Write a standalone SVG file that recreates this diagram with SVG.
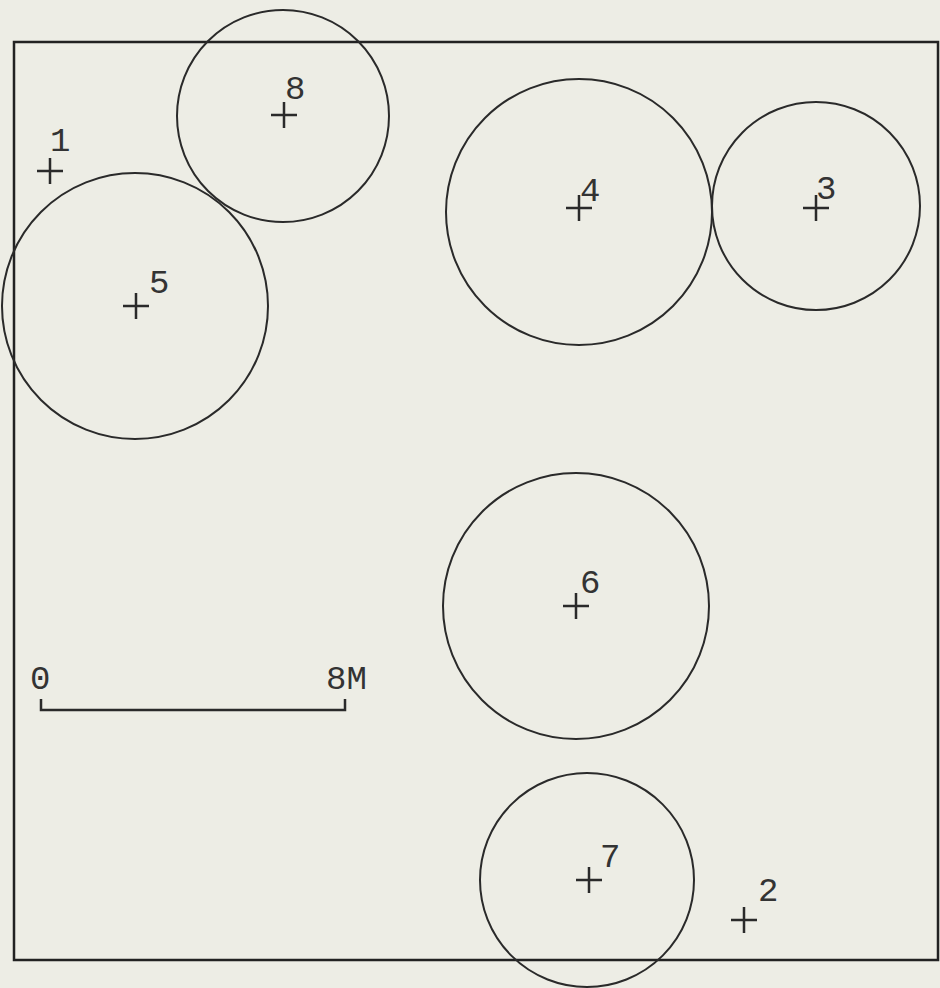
<svg xmlns="http://www.w3.org/2000/svg" width="940" height="988" viewBox="0 0 940 988">
<style>
.c{fill:none;stroke:#2a2a2a;stroke-width:2}
.x{stroke:#2a2a2a;stroke-width:2.5;fill:none}
.t{font-family:"Liberation Mono","DejaVu Sans Mono",monospace;font-size:34px;fill:#333}
</style>
<rect x="0" y="0" width="940" height="988" fill="#edede5"/>
<rect id="frame" x="14" y="42" width="924" height="918" fill="none" stroke="#222" stroke-width="2.5"/>
<g id="p1"><path class="x" d="M37 171h26M50 158v26"/><text class="t" x="50" y="151">1</text></g>
<g id="p8"><circle class="c" cx="283" cy="116" r="106"/><path class="x" d="M271 115h26M284 102v26"/><text class="t" x="285" y="99">8</text></g>
<g id="p5"><circle class="c" cx="135" cy="306" r="133"/><path class="x" d="M123 306h26M136 293v26"/><text class="t" x="149" y="293">5</text></g>
<g id="p4"><circle class="c" cx="579" cy="212" r="133"/><path class="x" d="M566 208h26M579 195v26"/><text class="t" x="580" y="201">4</text></g>
<g id="p3"><circle class="c" cx="816" cy="206" r="104"/><path class="x" d="M803 208h26M816 195v26"/><text class="t" x="816" y="199">3</text></g>
<g id="p6"><circle class="c" cx="576" cy="606" r="133"/><path class="x" d="M563 606h26M576 593v26"/><text class="t" x="580" y="593">6</text></g>
<g id="p7"><circle class="c" cx="587" cy="880" r="107"/><path class="x" d="M576 880h26M589 867v26"/><text class="t" x="600" y="867">7</text></g>
<g id="p2"><path class="x" d="M731 920h26M744 907v26"/><text class="t" x="758" y="901">2</text></g>
<g id="scale"><path class="x" d="M41 699v11h304v-11"/><text class="t" x="30" y="689">0</text><text class="t" x="326" y="689">8M</text></g>
</svg>
